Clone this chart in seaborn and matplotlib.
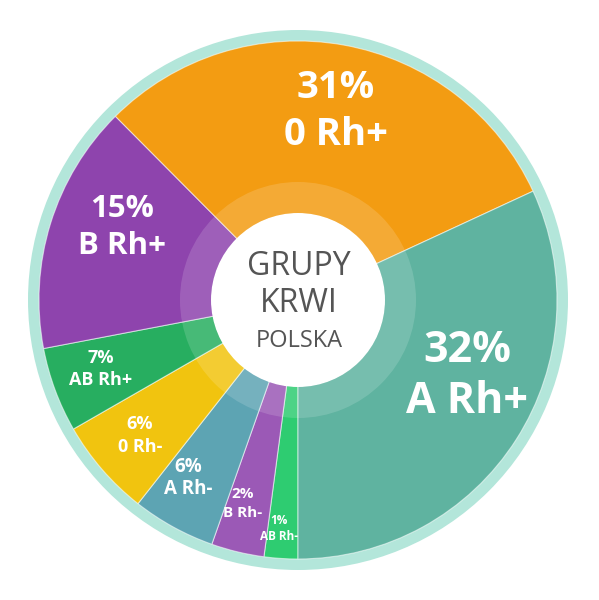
import matplotlib
matplotlib.use("Agg")
import matplotlib.pyplot as plt
from matplotlib.patches import Circle, Wedge
import seaborn as sns

sns.set_theme(style="white")
plt.rcParams['font.family'] = ['Open Sans', 'DejaVu Sans']

# data (clockwise starting at the bottom)
groups = ["AB Rh-", "B Rh-", "A Rh-", "0 Rh-", "AB Rh+", "B Rh+", "0 Rh+", "A Rh+"]
shares = [1, 2, 6, 6, 7, 15, 31, 32]                     # printed percentages
arc_sizes = [2.1, 3.3, 5.2, 6.1, 5.3, 15.55, 30.55, 31.9]  # slice sizes as drawn
colors = ["#2ECC71", "#9B59B6", "#5DA4B3", "#F1C40F", "#27AE60", "#8E44AD", "#F39C12", "#5FB3A0"]

fig = plt.figure(figsize=(5.99, 6.0), dpi=100)
ax = fig.add_axes([0, 0, 1, 1])

cx, cy = 298, 300
ax.add_patch(Circle((cx, cy), 270, facecolor="#B3E6DA", edgecolor="none", zorder=0))

# y axis is inverted, so counterclock=True renders clockwise on screen
wedges, _ = ax.pie(arc_sizes, colors=colors, startangle=90, counterclock=True,
                   center=(cx, cy), radius=259, frame=True,
                   wedgeprops=dict(linewidth=0.8, edgecolor=(1, 1, 1, 0.55)))
ax.set_xlim(0, 599)
ax.set_ylim(600, 0)
ax.set_aspect('equal')
ax.axis('off')

ax.add_patch(Wedge((cx, cy), 118, 0, 360, width=31, facecolor="white", alpha=0.15,
                   edgecolor="none", zorder=5))
ax.add_patch(Circle((cx, cy), 87, facecolor="white", edgecolor="none", zorder=6))

# slice labels: x centre, baseline of percent line, baseline of group line, font size
label_specs = {
    "0 Rh+": (336, 98, 145, 27.5),
    "A Rh+": (467, 362, 413, 31),
    "B Rh+": (122, 217, 254, 22.5),
    "AB Rh+": (101, 363, 385, 13),
    "0 Rh-": (140, 429, 452, 13),
    "A Rh-": (188.5, 472, 494, 13.5),
    "B Rh-": (242.5, 498, 517, 11),
    "AB Rh-": (279, 524, 540, 8.5),
}
for g, s in zip(groups, shares):
    x, y1, y2, fs = label_specs[g]
    ax.text(x, y1, f"{s}%", ha="center", va="baseline", color="white",
            fontsize=fs, fontweight="bold", zorder=7)
    ax.text(x, y2, g, ha="center", va="baseline", color="white",
            fontsize=fs, fontweight="bold", zorder=7)

ax.text(299, 275, "GRUPY", ha="center", va="baseline", color="#555555", fontsize=23, zorder=8)
ax.text(299, 312, "KRWI", ha="center", va="baseline", color="#555555", fontsize=23, zorder=8)
ax.text(299.5, 347, "POLSKA", ha="center", va="baseline", color="#555555", fontsize=17, zorder=8)

fig.savefig("out.png", dpi=100)
